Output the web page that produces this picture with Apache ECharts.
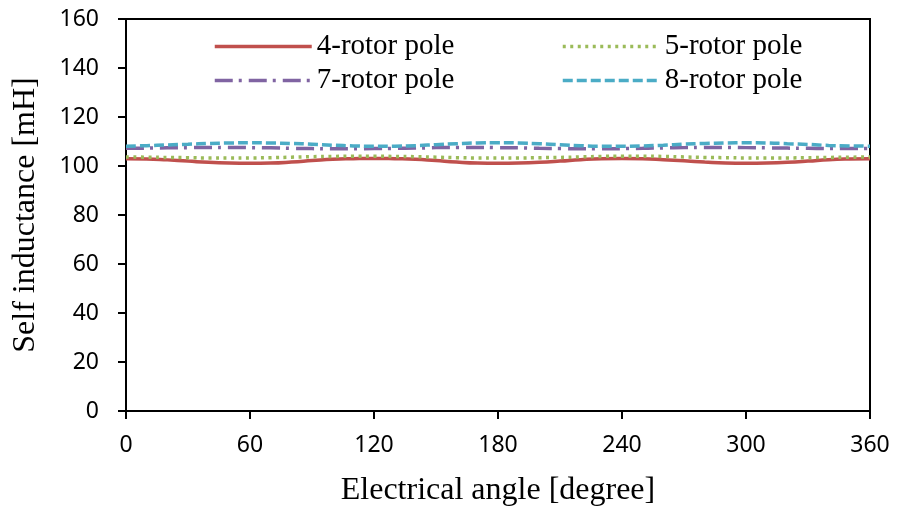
<!DOCTYPE html>
<html>
<head>
<meta charset="utf-8">
<script src="https://cdn.jsdelivr.net/npm/echarts@6/dist/echarts.min.js"></script>
<style>
  html, body { margin: 0; padding: 0; background: #fff; }
  #chart { width: 898px; height: 512px; }
</style>
</head>
<body>
<div id="chart"></div>
<script>
// electrical angle, degree
const angles = [0, 10, 20, 30, 40, 50, 60, 70, 80, 90, 100, 110, 120, 130, 140, 150, 160, 170, 180,
  190, 200, 210, 220, 230, 240, 250, 260, 270, 280, 290, 300, 310, 320, 330, 340, 350, 360]

const pole4 = [103, 102.9, 102.5, 102, 101.5, 101.2, 101.1, 101.2, 101.6, 102.2, 102.8, 103, 103.1, 103, 102.8, 102.2, 101.6, 101.2, 101.1,
  101.2, 101.5, 102, 102.6, 103, 103.1, 103, 102.6, 102.1, 101.6, 101.2, 101.1, 101.2, 101.5, 102, 102.6, 102.9, 103]
const pole5 = [103.7, 103.6, 103.5, 103.4, 103.3, 103.3, 103.3, 103.4, 103.6, 103.8, 103.9, 104, 104, 103.9, 103.8, 103.6, 103.4, 103.3, 103.3,
  103.3, 103.4, 103.5, 103.7, 103.9, 104, 104, 103.9, 103.7, 103.5, 103.4, 103.3, 103.3, 103.3, 103.4, 103.5, 103.6, 103.7]
const pole7 = [107.2, 107.3, 107.4, 107.5, 107.6, 107.6, 107.5, 107.4, 107.2, 107.1, 107, 107, 107.1, 107.2, 107.3, 107.5, 107.6, 107.6, 107.5,
  107.4, 107.2, 107.1, 107, 107, 107.1, 107.2, 107.4, 107.5, 107.6, 107.6, 107.5, 107.4, 107.3, 107.2, 107.1, 107.1, 107.2]
const pole8 = [108.1, 108.3, 108.6, 108.9, 109.2, 109.4, 109.5, 109.4, 109.2, 108.9, 108.5, 108.2, 108.1, 108.1, 108.3, 108.7, 109.1, 109.4, 109.5,
  109.4, 109.1, 108.7, 108.3, 108.1, 108.1, 108.2, 108.5, 108.9, 109.2, 109.4, 109.5, 109.4, 109.1, 108.8, 108.4, 108.2, 108.1]

const seriesNames = ['4-rotor pole', '5-rotor pole', '7-rotor pole', '8-rotor pole']

const SERIF = '"Liberation Serif", "Times New Roman", serif'
const SANS = '"Noto Sans", "Open Sans", sans-serif'

function pairs (ys) {
  return angles.map((a, i) => [a, ys[i]])
}

// one legend per item, laid out 2 x 2
function legendAt (name, left, top) {
  return {
    left: left,
    top: top,
    itemWidth: 97,
    itemHeight: 14,
    itemGap: 0,
    itemStyle: { opacity: 0 },
    lineStyle: { width: 3.5 },
    textStyle: { fontFamily: SERIF, fontSize: 29, color: '#000' },
    data: [name]
  }
}

const chart = echarts.init(document.getElementById('chart'))
chart.setOption({
  animation: false,
  textStyle: { fontFamily: SERIF, color: '#000' },
  grid: {
    left: 126,
    right: 28,
    top: 19,
    bottom: 101,
    show: true,
    borderColor: '#000',
    borderWidth: 2
  },
  legend: [
    legendAt(seriesNames[0], 208, 27),
    legendAt(seriesNames[1], 556, 27),
    legendAt(seriesNames[2], 208, 61),
    legendAt(seriesNames[3], 556, 61)
  ],
  xAxis: {
    type: 'value',
    min: 0,
    max: 360,
    interval: 60,
    name: 'Electrical angle [degree]',
    nameLocation: 'middle',
    nameGap: 64,
    nameTextStyle: { fontFamily: SERIF, fontSize: 32, color: '#000' },
    axisLine: { lineStyle: { color: '#000', width: 2 } },
    axisTick: { show: true, inside: false, length: 8, lineStyle: { color: '#000', width: 2 } },
    axisLabel: { fontFamily: SANS, fontSize: 23, color: '#000', margin: 23 },
    splitLine: { show: false }
  },
  yAxis: {
    type: 'value',
    min: 0,
    max: 160,
    interval: 20,
    name: 'Self inductance [mH]',
    nameLocation: 'middle',
    nameGap: 84,
    nameTextStyle: { fontFamily: SERIF, fontSize: 32, color: '#000' },
    axisLine: { show: true, lineStyle: { color: '#000', width: 2 } },
    axisTick: { show: true, inside: false, length: 8, lineStyle: { color: '#000', width: 2 } },
    axisLabel: { fontFamily: SANS, fontSize: 23, color: '#000', margin: 27 },
    splitLine: { show: false }
  },
  series: [
    {
      name: seriesNames[0],
      type: 'line',
      data: pairs(pole4),
      smooth: true,
      symbol: 'none',
      lineStyle: { color: '#C0504D', width: 3.5 },
      itemStyle: { color: '#C0504D' }
    },
    {
      name: seriesNames[1],
      type: 'line',
      data: pairs(pole5),
      smooth: true,
      symbol: 'none',
      lineStyle: { color: '#9BBB59', width: 3.5, type: [3, 4.5] },
      itemStyle: { color: '#9BBB59' }
    },
    {
      name: seriesNames[2],
      type: 'line',
      data: pairs(pole7),
      smooth: true,
      symbol: 'none',
      lineStyle: { color: '#8064A2', width: 3.5, type: [18, 6, 3, 7] },
      itemStyle: { color: '#8064A2' }
    },
    {
      name: seriesNames[3],
      type: 'line',
      data: pairs(pole8),
      smooth: true,
      symbol: 'none',
      lineStyle: { color: '#4BACC6', width: 3.5, type: [10, 4] },
      itemStyle: { color: '#4BACC6' }
    }
  ]
})
</script>
</body>
</html>
